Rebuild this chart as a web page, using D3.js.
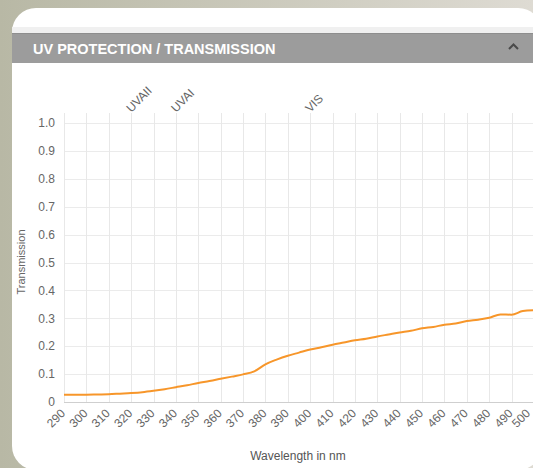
<!DOCTYPE html>
<html>
<head>
<meta charset="utf-8">
<script src="https://cdn.jsdelivr.net/npm/d3@7"></script>
<style>
  html, body { margin: 0; padding: 0; }
  body { width: 533px; height: 468px; overflow: hidden; }
  svg { display: block; font-family: "Liberation Sans", Arial, Helvetica, sans-serif; }
</style>
</head>
<body>
<div id="chart"></div>
<script>
// wavelength (nm) and transmission
const wavelengths = [290, 295, 300, 305, 310, 315, 320, 325, 330, 335, 340, 345, 350, 355, 360,
    365, 370, 375, 380, 385, 390, 395, 400, 405, 410, 415, 420, 425, 430, 435, 440, 445, 450,
    455, 460, 465, 470, 475, 480, 485, 490, 495, 500];
const transmission = [0.026, 0.026, 0.026, 0.027, 0.028, 0.030, 0.032, 0.035, 0.040, 0.046, 0.053,
    0.060, 0.068, 0.075, 0.083, 0.091, 0.099, 0.110, 0.135, 0.152, 0.166, 0.177, 0.188, 0.196,
    0.205, 0.213, 0.221, 0.227, 0.235, 0.242, 0.249, 0.255, 0.264, 0.269, 0.277, 0.281, 0.290,
    0.295, 0.302, 0.314, 0.313, 0.326, 0.329];

const xTicks = d3.range(290, 501, 10);
const yTicks = [0, 0.1, 0.2, 0.3, 0.4, 0.5, 0.6, 0.7, 0.8, 0.9, 1.0];

// top axis band labels
const bandNames = ["UVAII", "UVAI", "VIS"];
const bandPositions = [320, 340, 400];

const W = 533, H = 468;
const plot = {left: 64, right: 534, top: 123, bottom: 402, gridTop: 113};

const svg = d3.select("#chart").append("svg")
    .attr("width", W)
    .attr("height", H);

// background
const defs = svg.append("defs");
const bg = defs.append("linearGradient").attr("id", "bg").attr("x1", 0).attr("x2", 1).attr("y1", 0).attr("y2", 0);
bg.append("stop").attr("offset", "0%").attr("stop-color", "#b8b8a5");
bg.append("stop").attr("offset", "100%").attr("stop-color", "#dedbd3");
svg.append("rect").attr("width", W).attr("height", H).attr("fill", "url(#bg)");

// card
svg.append("rect")
    .attr("x", 12).attr("y", 8)
    .attr("width", 530).attr("height", 462)
    .attr("rx", 24)
    .attr("fill", "#fff");

// header
svg.append("rect").attr("x", 12).attr("y", 27).attr("width", W).attr("height", 7).attr("fill", "#f0f0f0");
svg.append("rect").attr("x", 12).attr("y", 33).attr("width", W).attr("height", 30).attr("fill", "#9c9c9c");
svg.append("line").attr("x1", 12).attr("x2", W).attr("y1", 33.5).attr("y2", 33.5).attr("stroke", "#8e8e8e");
svg.append("text")
    .attr("x", 33).attr("y", 54)
    .attr("fill", "#fff")
    .attr("font-size", 14.5)
    .attr("font-weight", "bold")
    .text("UV PROTECTION / TRANSMISSION");
svg.append("path")
    .attr("d", "M509,49 L513.5,44.5 L518,49")
    .attr("fill", "none")
    .attr("stroke", "#4a4a4a")
    .attr("stroke-width", 2);

// scales
const x = d3.scaleLinear().domain([290, 500]).range([plot.left, plot.right]);
const y = d3.scaleLinear().domain([0, 1]).range([plot.bottom, plot.top]);

const g = svg.append("g");

// grid
g.append("g")
    .selectAll("line")
    .data(yTicks)
    .join("line")
    .attr("x1", plot.left).attr("x2", plot.right)
    .attr("y1", d => Math.round(y(d)) + 0.5).attr("y2", d => Math.round(y(d)) + 0.5)
    .attr("stroke", d => d === 0 ? "#cfcfcf" : "#ebebeb");

g.append("g")
    .selectAll("line")
    .data(xTicks)
    .join("line")
    .attr("x1", d => Math.round(x(d)) + 0.5).attr("x2", d => Math.round(x(d)) + 0.5)
    .attr("y1", plot.gridTop).attr("y2", plot.bottom)
    .attr("stroke", "#e8e8e8");

// y tick labels
g.append("g")
    .selectAll("text")
    .data(yTicks)
    .join("text")
    .attr("x", plot.left - 9)
    .attr("y", d => y(d))
    .attr("dy", "0.35em")
    .attr("text-anchor", "end")
    .attr("font-size", 12)
    .attr("fill", "#666")
    .text(d => d === 0 ? "0" : d3.format(".1f")(d));

// x tick labels (last one pulled in a little so it stays inside the window)
g.append("g")
    .selectAll("text")
    .data(xTicks)
    .join("text")
    .attr("transform", d => `translate(${Math.min(x(d) - 1, 528)},${plot.bottom + 9}) rotate(-45)`)
    .attr("text-anchor", "end")
    .attr("dy", "0.35em")
    .attr("font-size", 12)
    .attr("fill", "#666")
    .text(d => d);

// band labels on top
g.append("g")
    .selectAll("text")
    .data(bandNames)
    .join("text")
    .attr("transform", (d, i) => `translate(${x(bandPositions[i])},${plot.gridTop}) rotate(-45)`)
    .attr("text-anchor", "start")
    .attr("font-size", 12)
    .attr("fill", "#666")
    .text(d => d);

// axis titles
svg.append("text")
    .attr("transform", `translate(25,262) rotate(-90)`)
    .attr("text-anchor", "middle")
    .attr("font-size", 11)
    .attr("fill", "#666")
    .text("Transmission");

svg.append("text")
    .attr("x", 298).attr("y", 460)
    .attr("text-anchor", "middle")
    .attr("font-size", 12)
    .attr("fill", "#555")
    .text("Wavelength in nm");

// series
const line = d3.line()
    .x((d, i) => x(wavelengths[i]))
    .y(d => y(d))
    .curve(d3.curveMonotoneX);

g.append("path")
    .datum(transmission)
    .attr("d", line)
    .attr("fill", "none")
    .attr("stroke", "#f7962a")
    .attr("stroke-width", 2);
</script>
</body>
</html>
